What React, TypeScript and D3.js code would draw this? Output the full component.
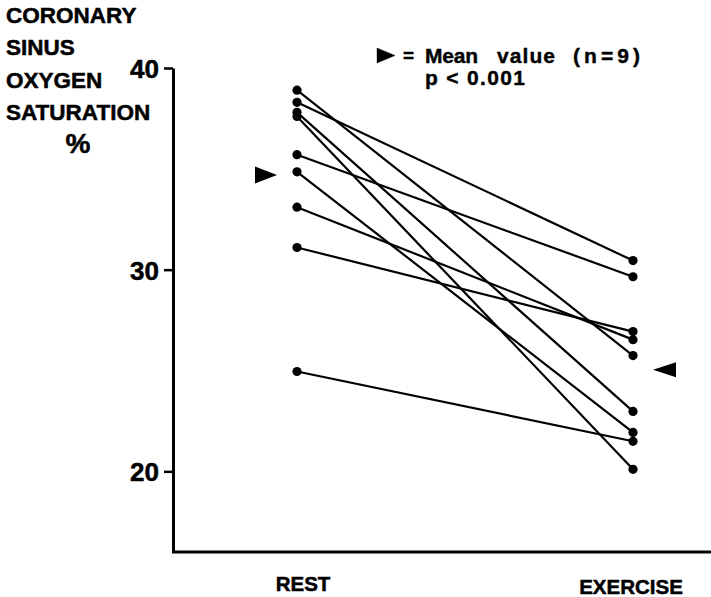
import React from "react";
import * as d3 from "d3";

// values (coronary sinus O2 saturation, %)
const conditions = ["REST", "EXERCISE"];
const restValues = [38.9, 38.3, 37.8, 37.6, 35.7, 34.85, 33.1, 31.1, 24.95];
const exerciseValues = [25.74, 30.45, 22.97, 20.1, 29.65, 21.93, 26.53, 26.93, 21.49];
const yTicks = [20, 30, 40];
const yTitle = ["CORONARY", "SINUS", "OXYGEN", "SATURATION"];
const legendWords = ["Mean", "value", "(n=9)"];
const pText = "p < 0.001";

const FONT = '"Liberation Sans", Arial, Helvetica, sans-serif';

const App = () => {
  const ref = React.useRef<SVGSVGElement>(null);

  React.useEffect(() => {
    document.body.style.margin = "0";
    const svg = d3.select(ref.current);
    svg.selectAll("*").remove();

    const x = d3.scalePoint().domain(conditions).range([297, 633]);
    const y = d3.scaleLinear().domain([16, 40]).range([552, 68]);

    // title on the left
    const title = svg.append("g")
      .attr("font-family", FONT)
      .attr("font-weight", "bold")
      .attr("font-size", "22.5px")
      .attr("fill", "black")
      .attr("stroke", "black")
      .attr("stroke-width", 0.5);
    yTitle.forEach((t, i) => {
      title.append("text").attr("x", 6).attr("y", 23 + i * 32.3).text(t);
    });
    title.append("text")
      .attr("x", 78).attr("y", 153)
      .attr("text-anchor", "middle")
      .attr("font-size", "28px")
      .text("%");

    // y axis
    const yAxis = svg.append("g")
      .attr("transform", "translate(173,0)")
      .call(d3.axisLeft(y).tickValues(yTicks).tickSize(9).tickSizeOuter(0).tickPadding(5));
    yAxis.select(".domain").attr("stroke", "black").attr("stroke-width", 3);
    yAxis.selectAll(".tick line").attr("stroke", "black").attr("stroke-width", 2.5);
    yAxis.selectAll(".tick text")
      .attr("font-family", FONT)
      .attr("font-weight", "bold")
      .attr("font-size", "26px")
      .attr("fill", "black")
      .attr("stroke", "black")
      .attr("stroke-width", 0.5)
      .attr("dy", "0.36em");

    // x axis line
    svg.append("line")
      .attr("x1", 172).attr("x2", 711)
      .attr("y1", y(16)).attr("y2", y(16))
      .attr("stroke", "black").attr("stroke-width", 3);

    const labelBase: Record<string, number> = { REST: 591, EXERCISE: 594 };
    svg.append("g").selectAll("text")
      .data(conditions)
      .join("text")
      .attr("x", (d) => x(d)! + (d === "REST" ? 6 : -2))
      .attr("y", (d) => labelBase[d])
      .attr("text-anchor", "middle")
      .attr("font-family", FONT)
      .attr("font-weight", "bold")
      .attr("font-size", "20.5px")
      .attr("stroke", "black")
      .attr("stroke-width", 0.5)
      .text((d) => d);

    // subject lines
    const pairs = restValues.map((r, i) => ({ rest: r, ex: exerciseValues[i] }));
    const g = svg.append("g");
    g.selectAll("line.subj")
      .data(pairs)
      .join("line")
      .attr("class", "subj")
      .attr("x1", x("REST")!)
      .attr("y1", (d) => y(d.rest))
      .attr("x2", x("EXERCISE")!)
      .attr("y2", (d) => y(d.ex))
      .attr("stroke", "black")
      .attr("stroke-width", 2.2);
    g.selectAll("circle.rest")
      .data(restValues)
      .join("circle")
      .attr("class", "rest")
      .attr("cx", x("REST")!)
      .attr("cy", (d) => y(d))
      .attr("r", 4.6)
      .attr("fill", "black");
    g.selectAll("circle.ex")
      .data(exerciseValues)
      .join("circle")
      .attr("class", "ex")
      .attr("cx", x("EXERCISE")!)
      .attr("cy", (d) => y(d))
      .attr("r", 4.6)
      .attr("fill", "black");

    // mean markers
    const restMean = d3.mean(restValues)!;
    const exMean = d3.mean(exerciseValues)!;
    const tri = (tipX: number, tipY: number, dir: number, w: number, h: number) =>
      `M${tipX},${tipY}L${tipX - dir * w},${tipY - h / 2}L${tipX - dir * w},${tipY + h / 2}Z`;
    svg.append("path").attr("d", tri(x("REST")! - 20, y(restMean), 1, 22, 17)).attr("fill", "black");
    svg.append("path").attr("d", tri(x("EXERCISE")! + 20, y(exMean) + 1, -1, 23, 15)).attr("fill", "black");

    // legend
    const leg = svg.append("g")
      .attr("font-family", FONT)
      .attr("font-weight", "bold")
      .attr("font-size", "21px")
      .attr("fill", "black")
      .attr("stroke", "black")
      .attr("stroke-width", 0.4);
    leg.append("path").attr("d", tri(395, 55.5, 1, 18, 15)).attr("fill", "black");
    leg.append("text").attr("x", 403).attr("y", 62).attr("font-size", "19px").text("=");
    const wordX = [425, 497, 573];
    const wordW = [53, 58, 67];
    legendWords.forEach((w, i) => {
      leg.append("text")
        .attr("x", wordX[i]).attr("y", 63)
        .attr("textLength", wordW[i])
        .attr("lengthAdjust", "spacing")
        .text(w);
    });
    leg.append("text")
      .attr("x", 425).attr("y", 85)
      .attr("textLength", 100)
      .attr("lengthAdjust", "spacing")
      .text(pText);
  }, []);

  return <svg ref={ref} width={711} height={597} style={{ display: "block", background: "white" }} />;
};

export default App;
